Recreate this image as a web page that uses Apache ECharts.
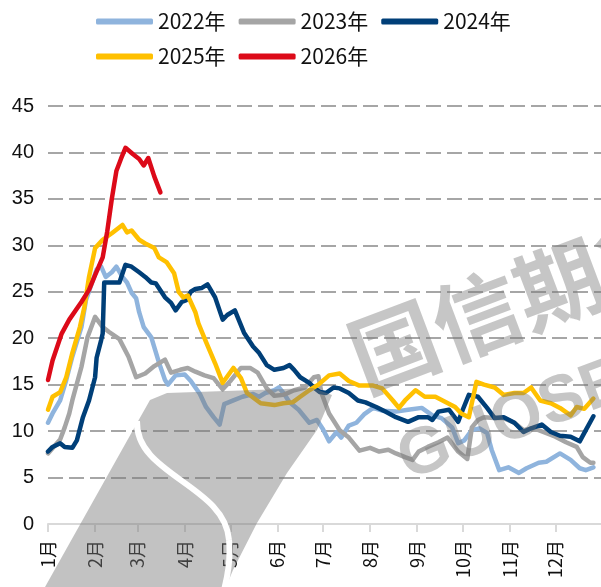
<!DOCTYPE html>
<html>
<head>
<meta charset="utf-8">
<script src="https://cdn.jsdelivr.net/npm/echarts@6/dist/echarts.min.js"></script>
<style>
  html, body { margin: 0; padding: 0; background: #fff; }
  #chart { width: 601px; height: 587px; }
</style>
</head>
<body>
<div id="chart"></div>
<script>
// 月份（按日历天数建类目轴）
const monthLens = [31, 28, 31, 30, 31, 30, 31, 31, 30, 31, 30, 31];
const monthLabels = ["1月", "2月", "3月", "4月", "5月", "6月", "7月", "8月", "9月", "10月", "11月", "12月"];
const yTicks = [0, 5, 10, 15, 20, 25, 30, 35, 40, 45];

// 各年数据：[一年中的第几天, 数值]
const y2022 = [
  [0, 10.9], [3, 11.9], [8, 13.3], [12, 15.5], [16, 18.0], [22, 21.2], [25, 24.1], [29, 26.0],
  [32, 27.4], [35, 27.7], [38, 26.6], [42, 27.1], [45, 27.7], [49, 26.6], [52, 26.0], [55, 24.9],
  [58, 24.3], [60, 22.8], [63, 21.2], [68, 20.1], [73, 17.4], [77, 15.5], [79, 15.0], [84, 16.0],
  [90, 16.1], [94, 15.4], [100, 14.0], [104, 12.6], [109, 11.5], [113, 10.7], [116, 12.9], [122, 13.3],
  [128, 13.7], [135, 14.0], [139, 13.7], [143, 14.1], [149, 14.4], [152, 14.7], [155, 14.1], [159, 13.1],
  [165, 12.3], [172, 10.9], [177, 11.2], [181, 10.2], [185, 8.9], [190, 9.9], [193, 9.3], [198, 10.6],
  [203, 10.9], [208, 11.8], [214, 12.5], [220, 12.2], [229, 12.1], [237, 12.3], [246, 12.5], [253, 11.7],
  [259, 11.4], [266, 10.4], [270, 8.7], [274, 9.0], [279, 10.1], [284, 10.3], [289, 9.8], [292, 8.0],
  [297, 5.8], [303, 6.1], [310, 5.5], [315, 6.0], [323, 6.6], [328, 6.7], [337, 7.6], [344, 6.9],
  [350, 6.0], [354, 5.8], [359, 6.1]
];
const y2023 = [
  [0, 7.6], [8, 9.1], [11, 10.4], [14, 11.9], [16, 13.3], [22, 16.9], [26, 20.1], [31, 22.3],
  [36, 21.2], [40, 20.7], [47, 19.9], [53, 18.0], [58, 15.8], [64, 16.2], [70, 17.0], [77, 17.7],
  [81, 16.3], [87, 16.6], [92, 16.8], [97, 16.4], [103, 16.0], [109, 15.7], [115, 14.5], [120, 15.4],
  [127, 16.8], [133, 16.8], [138, 16.3], [144, 14.6], [149, 13.8], [155, 13.9], [162, 14.4], [169, 14.7],
  [175, 15.8], [178, 15.9], [180, 14.1], [185, 11.9], [192, 10.1], [198, 9.3], [205, 7.9], [212, 8.2],
  [218, 7.8], [224, 8.0], [229, 7.6], [235, 7.2], [240, 6.9], [244, 7.8], [250, 8.3], [257, 8.8],
  [263, 9.3], [270, 7.8], [276, 7.0], [279, 10.4], [283, 11.2], [287, 11.5], [294, 11.4], [300, 11.4],
  [307, 10.9], [313, 10.1], [320, 10.3], [326, 9.9], [334, 9.4], [341, 8.8], [348, 8.3], [352, 7.2],
  [357, 6.6], [359, 6.6]
];
const y2024 = [
  [0, 7.8], [3, 8.3], [8, 8.7], [11, 8.3], [16, 8.2], [19, 9.0], [23, 11.5], [27, 13.3],
  [31, 15.8], [32, 17.9], [35, 19.8], [36, 20.5], [37, 26.0], [42, 26.0], [47, 26.0], [51, 27.9],
  [55, 27.7], [60, 27.1], [64, 26.6], [68, 26.0], [71, 25.9], [77, 24.4], [81, 23.8], [84, 23.0],
  [88, 23.9], [91, 24.1], [94, 25.0], [97, 25.3], [101, 25.4], [105, 25.8], [110, 24.4], [115, 22.0],
  [118, 22.5], [123, 23.0], [129, 20.6], [135, 19.1], [139, 18.4], [144, 17.1], [149, 16.6], [155, 16.8],
  [159, 17.1], [162, 16.6], [166, 15.8], [172, 15.2], [175, 14.7], [179, 14.2], [183, 14.1], [188, 14.7],
  [192, 14.6], [198, 14.1], [204, 13.3], [209, 13.1], [216, 12.6], [222, 12.1], [229, 11.5], [237, 11.0],
  [244, 11.5], [250, 11.5], [253, 11.2], [257, 12.1], [264, 12.3], [270, 11.0], [273, 12.3], [277, 13.9],
  [283, 13.7], [289, 12.5], [294, 11.4], [300, 11.5], [307, 10.9], [313, 9.9], [318, 10.3], [325, 10.7],
  [331, 9.9], [337, 9.5], [344, 9.4], [350, 8.9], [354, 10.1], [359, 11.6]
];
const y2025 = [
  [0, 12.3], [3, 13.7], [8, 14.2], [12, 15.8], [16, 18.4], [21, 21.2], [24, 23.4], [27, 26.6],
  [31, 29.7], [36, 30.6], [42, 31.3], [49, 32.2], [52, 31.4], [55, 31.6], [60, 30.6], [64, 30.2],
  [70, 29.7], [73, 28.7], [78, 28.2], [83, 27.0], [86, 25.0], [89, 24.4], [92, 24.6], [97, 22.8],
  [99, 21.6], [104, 19.6], [110, 17.3], [115, 15.2], [122, 16.8], [127, 15.7], [131, 14.1], [140, 13.0],
  [149, 12.8], [155, 13.0], [161, 13.1], [166, 13.7], [172, 14.4], [178, 15.0], [185, 16.0], [192, 16.2],
  [198, 15.4], [205, 14.9], [214, 14.9], [220, 14.6], [227, 13.3], [231, 12.5], [235, 13.3], [242, 14.4],
  [248, 13.7], [255, 13.7], [261, 13.2], [268, 12.6], [272, 11.9], [277, 11.5], [282, 15.3], [287, 15.0],
  [294, 14.7], [300, 13.9], [307, 14.1], [313, 14.1], [318, 14.7], [324, 13.3], [331, 13.0], [337, 12.5],
  [344, 11.7], [348, 12.6], [353, 12.4], [359, 13.5]
];
const y2026 = [
  [0, 15.5], [3, 17.6], [9, 20.5], [14, 22.0], [22, 23.9], [27, 25.2], [31, 26.8], [36, 28.7],
  [39, 31.5], [42, 35.0], [45, 38.0], [48, 39.3], [51, 40.5], [56, 39.8], [60, 39.3], [63, 38.6],
  [66, 39.4], [70, 37.4], [74, 35.7]
];

const seriesNames = ["2022年", "2023年", "2024年", "2025年", "2026年"];
const seriesData = [y2022, y2023, y2024, y2025, y2026];
const colors = ["#8fb4dd", "#a5a5a5", "#003f78", "#ffc000", "#dc0a19"];

// 类目：全年每一天，月初位置放刻度
const days = [];
const monthStarts = [];
monthLens.forEach((len, m) => {
  monthStarts.push(days.length);
  for (let d = 1; d <= len; d++) days.push((m + 1) + "月" + d + "日");
});
const isMonthStart = (i) => monthStarts.indexOf(i) >= 0;

const chart = echarts.init(document.getElementById("chart"));
const option = {
  animation: false,
  color: colors,
  grid: { left: 48, right: -7, top: 106, bottom: 63 },
  legend: [
    {
      data: seriesNames.slice(0, 3),
      left: 91, top: 6,
      icon: "roundRect", itemWidth: 57, itemHeight: 6, itemGap: 13,
      textStyle: { fontSize: 21, color: "#111", fontFamily: "Noto Sans CJK SC" }
    },
    {
      data: seriesNames.slice(3),
      left: 91, top: 41,
      icon: "roundRect", itemWidth: 57, itemHeight: 6, itemGap: 13,
      textStyle: { fontSize: 21, color: "#111", fontFamily: "Noto Sans CJK SC" }
    }
  ],
  xAxis: {
    type: "category",
    data: days,
    boundaryGap: false,
    axisLine: { lineStyle: { color: "#d9d9d9", width: 2 } },
    axisTick: { interval: isMonthStart, length: 8, lineStyle: { color: "#d9d9d9", width: 2 } },
    axisLabel: {
      interval: isMonthStart,
      rotate: 90,
      margin: 16,
      fontSize: 18,
      color: "#111",
      fontFamily: "Noto Sans CJK SC",
      formatter: (v, i) => monthLabels[monthStarts.indexOf(i)]
    },
    splitLine: { show: false }
  },
  yAxis: {
    type: "value",
    min: yTicks[0],
    max: yTicks[yTicks.length - 1],
    interval: yTicks[1] - yTicks[0],
    axisLine: { show: false },
    axisTick: { show: false },
    axisLabel: { fontSize: 20, color: "#111", margin: 14, fontFamily: "Liberation Sans" },
    splitLine: { lineStyle: { type: [15, 6], color: "#a6a6a6", width: 2 } }
  },
  series: seriesNames.map((name, k) => ({
    name: name,
    type: "line",
    data: seriesData[k],
    symbol: "none",
    lineStyle: { width: 4.5, color: colors[k], join: "round", cap: "round" },
    z: 2 + k
  })),
  // 水印
  graphic: [
    {
      type: "polygon", z: 100, silent: true,
      shape: {
        points: [[45, 587], [137, 423], [150, 400], [167, 393], [313, 388], [332, 395],
                 [317, 430], [287, 473], [257, 523], [233, 570], [226, 587]]
      },
      style: { fill: "rgba(120,120,120,0.45)" }
    },
    {
      type: "bezierCurve", z: 101, silent: true,
      shape: { x1: 137, y1: 421, cpx1: 135, cpy1: 475, cpx2: 225, cpy2: 485, x2: 229, y2: 540 },
      style: { stroke: "#fff", lineWidth: 6, fill: null }
    },
    {
      type: "bezierCurve", z: 101, silent: true,
      shape: { x1: 229, y1: 540, cpx1: 231, cpy1: 560, cpx2: 228, cpy2: 575, x2: 224, y2: 590 },
      style: { stroke: "#fff", lineWidth: 6, fill: null }
    },
    {
      type: "text", z: 100, silent: true,
      x: 353, y: 362, rotation: 0.36,
      style: {
        text: "国信期货", fill: "rgba(120,120,120,0.42)",
        font: "bold 88px 'Noto Sans CJK SC'", textVerticalAlign: "middle"
      }
    },
    {
      type: "text", z: 100, silent: true,
      x: 401, y: 463, rotation: 0.36,
      style: {
        text: "GUOSEN", fill: "rgba(120,120,120,0.42)",
        font: "bold 66px 'Liberation Sans'", textVerticalAlign: "middle"
      }
    }
  ]
};
chart.setOption(option);
</script>
</body>
</html>
